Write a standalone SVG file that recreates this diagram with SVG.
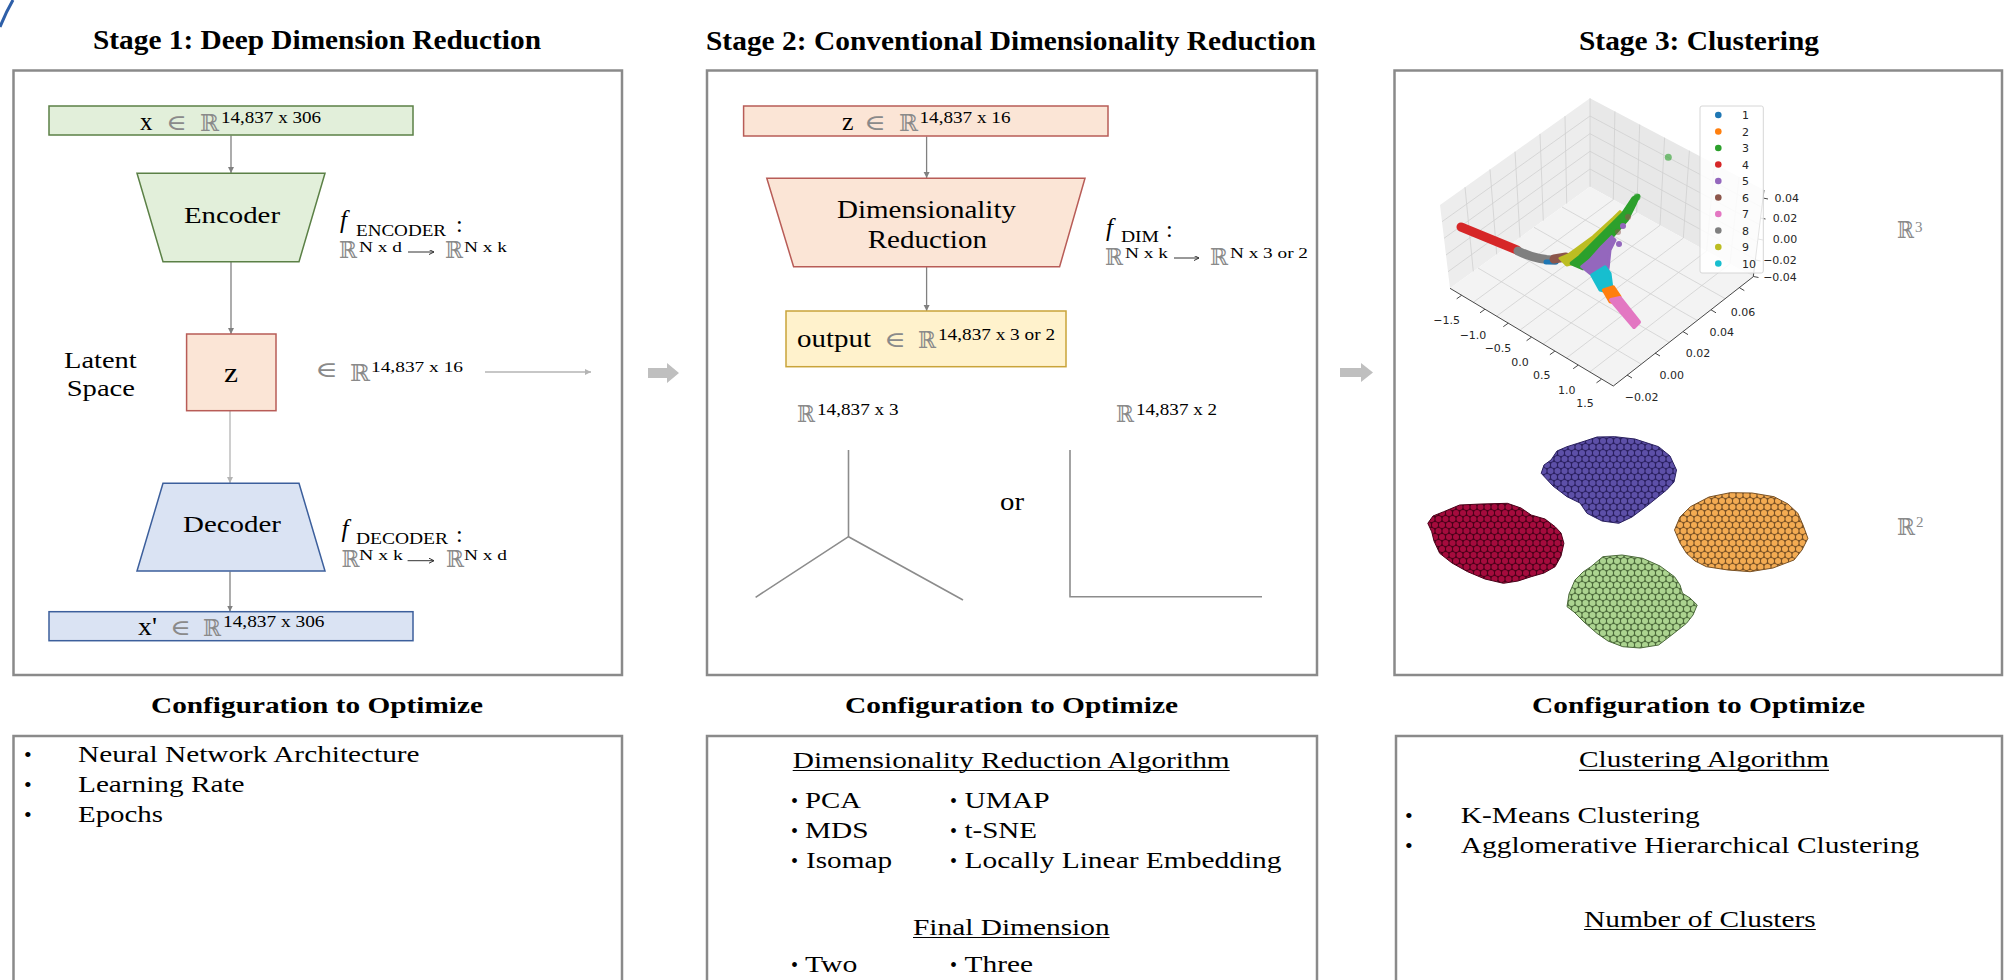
<svg xmlns="http://www.w3.org/2000/svg" width="2004" height="980" viewBox="0 0 2004 980">
<defs>
<style>
.s{font-family:"Liberation Serif","Times New Roman",serif;fill:#000}
.bd{font-weight:bold}
.it{font-style:italic}
.m{font-family:"DejaVu Serif","DejaVu Sans",serif;fill:#8a8a8a}
.pl{font-family:"DejaVu Sans",sans-serif;fill:#262626;font-size:11px}
.frame{fill:none;stroke:#8a8a8a;stroke-width:2.5}
.g{fill:#e2efda;stroke:#5b8046;stroke-width:1.5}
.o{fill:#fbe5d6;stroke:#b85c57;stroke-width:1.5}
.bl{fill:#dae3f3;stroke:#3c5f9c;stroke-width:1.5}
.y{fill:#fff2cc;stroke:#c9a43a;stroke-width:1.5}
.con{fill:none;stroke:#808080;stroke-width:1.3;marker-end:url(#ah)}
.con2{fill:none;stroke:#b4b4b4;stroke-width:1.3;marker-end:url(#ah2)}
.ax{fill:none;stroke:#8c8c8c;stroke-width:1.6}
.grid{stroke:#d0d0d0;stroke-width:0.8;fill:none}
.ul{stroke:#000;stroke-width:1.2}
.map{stroke:#333;stroke-width:1;fill:none;marker-end:url(#mh)}
.blk{fill:#bfbfbf}
.tk{stroke:#333;stroke-width:0.9}
</style>
<marker id="ah" markerUnits="userSpaceOnUse" markerWidth="7" markerHeight="7" refX="6" refY="3" orient="auto"><path d="M0,0 L6,3 L0,6 Z" fill="#808080"/></marker>
<marker id="ah2" markerUnits="userSpaceOnUse" markerWidth="7" markerHeight="7" refX="6" refY="3" orient="auto"><path d="M0,0 L6,3 L0,6 Z" fill="#b4b4b4"/></marker>
<marker id="mh" markerUnits="userSpaceOnUse" markerWidth="6" markerHeight="6" refX="5" refY="2.5" orient="auto"><path d="M0,0 L5,2.5 L0,5" fill="none" stroke="#333" stroke-width="1"/></marker>
<pattern id="pPur" width="7" height="12" patternUnits="userSpaceOnUse"><rect width="7" height="12" fill="#2a2060"/><circle cx="3.5" cy="3" r="3" fill="#5d50a8"/><circle cx="0" cy="9" r="3" fill="#5d50a8"/><circle cx="7" cy="9" r="3" fill="#5d50a8"/></pattern>
<pattern id="pRed" width="7" height="12" patternUnits="userSpaceOnUse"><rect width="7" height="12" fill="#4a0018"/><circle cx="3.5" cy="3" r="3" fill="#a50b3d"/><circle cx="0" cy="9" r="3" fill="#a50b3d"/><circle cx="7" cy="9" r="3" fill="#a50b3d"/></pattern>
<pattern id="pOra" width="7" height="12" patternUnits="userSpaceOnUse"><rect width="7" height="12" fill="#7a5225"/><circle cx="3.5" cy="3" r="3" fill="#f3ab52"/><circle cx="0" cy="9" r="3" fill="#f3ab52"/><circle cx="7" cy="9" r="3" fill="#f3ab52"/></pattern>
<pattern id="pGrn" width="7" height="12" patternUnits="userSpaceOnUse"><rect width="7" height="12" fill="#4d6b3c"/><circle cx="3.5" cy="3" r="3" fill="#acd490"/><circle cx="0" cy="9" r="3" fill="#acd490"/><circle cx="7" cy="9" r="3" fill="#acd490"/></pattern>
</defs>
<rect width="2004" height="980" fill="#fff"/>
<path d="M0,27 Q6,12 13,0" fill="none" stroke="#2e5fa8" stroke-width="3"/>

<g id="titles">
<text class="s bd" x="93" y="49" font-size="26.5" textLength="448" lengthAdjust="spacingAndGlyphs">Stage 1: Deep Dimension Reduction</text>
<text class="s bd" x="706" y="50" font-size="26.5" textLength="610" lengthAdjust="spacingAndGlyphs">Stage 2: Conventional Dimensionality Reduction</text>
<text class="s bd" x="1579" y="50" font-size="26.5" textLength="240" lengthAdjust="spacingAndGlyphs">Stage 3: Clustering</text>
<text class="s bd" x="151" y="713" font-size="23" textLength="332" lengthAdjust="spacingAndGlyphs">Configuration to Optimize</text>
<text class="s bd" x="845" y="713" font-size="23" textLength="333" lengthAdjust="spacingAndGlyphs">Configuration to Optimize</text>
<text class="s bd" x="1532" y="713" font-size="23" textLength="333" lengthAdjust="spacingAndGlyphs">Configuration to Optimize</text>
</g>

<g id="frames">
<rect class="frame" x="13.5" y="70.5" width="608.5" height="604.5"/>
<rect class="frame" x="707" y="70.5" width="610" height="604.5"/>
<rect class="frame" x="1394.5" y="70.5" width="607.5" height="604.5"/>
<rect class="frame" x="13.5" y="736" width="608.5" height="260"/>
<rect class="frame" x="707" y="736" width="610" height="260"/>
<rect class="frame" x="1396" y="736" width="606" height="260"/>
</g>

<g id="connectors">
<line class="con" x1="231" y1="135.5" x2="231" y2="173"/>
<line class="con" x1="231" y1="262" x2="231" y2="334"/>
<line class="con2" x1="230" y1="411" x2="230" y2="483"/>
<line class="con" x1="230" y1="571.5" x2="230" y2="611.5"/>
<line class="con2" x1="485" y1="372" x2="591" y2="372"/>
<line class="con" x1="926.6" y1="136.5" x2="926.6" y2="178"/>
<line class="con" x1="926.6" y1="267" x2="926.6" y2="311"/>
<path class="blk" d="M648,368 H667 V363 L679,373 L667,383 V378 H648 Z"/>
<path class="blk" d="M1340,368 H1361 V363 L1373,372.5 L1361,382 V377 H1340 Z"/>
</g>

<g id="x-input">
<rect class="g" x="49" y="106" width="364" height="29"/>
<text class="s" x="140" y="130" font-size="25">x</text>
<text class="m" x="166" y="130" font-size="22" textLength="21" lengthAdjust="spacingAndGlyphs">∈</text>
<text class="m" x="200" y="131" font-size="23" textLength="19" lengthAdjust="spacingAndGlyphs">ℝ</text>
<text class="s" x="221" y="122.7" font-size="16.5" textLength="100" lengthAdjust="spacingAndGlyphs">14,837 x 306</text>
</g>

<g id="encoder">
<polygon class="g" points="137,173.3 325,173.3 299,261.7 163,261.7"/>
<text class="s" x="232" y="222.7" font-size="24" text-anchor="middle" textLength="96" lengthAdjust="spacingAndGlyphs">Encoder</text>
</g>
<g id="f-encoder">
<text class="s it" x="340" y="228" font-size="25">f</text>
<text class="s" x="356" y="235.7" font-size="16" textLength="90" lengthAdjust="spacingAndGlyphs">ENCODER</text>
<text class="s" x="456" y="231.5" font-size="24">:</text>
<text class="m" x="339" y="258" font-size="23" textLength="18" lengthAdjust="spacingAndGlyphs">ℝ</text>
<text class="s" x="359" y="251.7" font-size="14.5" textLength="43" lengthAdjust="spacingAndGlyphs">N x d</text>
<line class="map" x1="408" y1="252" x2="434" y2="252"/>
<text class="m" x="445" y="258" font-size="23" textLength="18" lengthAdjust="spacingAndGlyphs">ℝ</text>
<text class="s" x="464" y="251.7" font-size="14.5" textLength="43" lengthAdjust="spacingAndGlyphs">N x k</text>
</g>

<g id="latent-label">
<text class="s" x="64" y="368.3" font-size="23" textLength="72.7" lengthAdjust="spacingAndGlyphs">Latent</text>
<text class="s" x="66.7" y="396" font-size="23" textLength="68.3" lengthAdjust="spacingAndGlyphs">Space</text>
</g>

<g id="z-latent">
<rect class="o" x="186.6" y="334" width="89.4" height="76.7"/>
<text class="s" x="231" y="381.7" font-size="28" text-anchor="middle" textLength="14" lengthAdjust="spacingAndGlyphs">z</text>
</g>
<g id="z-dim">
<text class="m" x="315" y="377.3" font-size="22" textLength="23" lengthAdjust="spacingAndGlyphs">∈</text>
<text class="m" x="350" y="380.7" font-size="23" textLength="20" lengthAdjust="spacingAndGlyphs">ℝ</text>
<text class="s" x="371" y="372.3" font-size="15" textLength="92" lengthAdjust="spacingAndGlyphs">14,837 x 16</text>
</g>

<g id="decoder">
<polygon class="bl" points="163,483.3 299,483.3 325,571 137,571"/>
<text class="s" x="232" y="531.7" font-size="24" text-anchor="middle" textLength="98" lengthAdjust="spacingAndGlyphs">Decoder</text>
</g>
<g id="f-decoder">
<text class="s it" x="341.5" y="537" font-size="25">f</text>
<text class="s" x="356" y="544" font-size="16" textLength="92" lengthAdjust="spacingAndGlyphs">DECODER</text>
<text class="s" x="456" y="541.5" font-size="24">:</text>
<text class="m" x="341.5" y="567.3" font-size="23" textLength="18" lengthAdjust="spacingAndGlyphs">ℝ</text>
<text class="s" x="359" y="560" font-size="14.5" textLength="44" lengthAdjust="spacingAndGlyphs">N x k</text>
<line class="map" x1="407.6" y1="560.7" x2="434" y2="560.7"/>
<text class="m" x="446" y="567.3" font-size="23" textLength="18" lengthAdjust="spacingAndGlyphs">ℝ</text>
<text class="s" x="464" y="560" font-size="14.5" textLength="43" lengthAdjust="spacingAndGlyphs">N x d</text>
</g>

<g id="x-output">
<rect class="bl" x="49" y="611.7" width="364" height="29"/>
<text class="s" x="138" y="635" font-size="25" textLength="19" lengthAdjust="spacingAndGlyphs">x'</text>
<text class="m" x="170" y="635" font-size="22" textLength="21" lengthAdjust="spacingAndGlyphs">∈</text>
<text class="m" x="203" y="636" font-size="23" textLength="18" lengthAdjust="spacingAndGlyphs">ℝ</text>
<text class="s" x="223" y="627.3" font-size="16.5" textLength="101.5" lengthAdjust="spacingAndGlyphs">14,837 x 306</text>
</g>

<g id="config-1">
<text class="s" x="24" y="761.7" font-size="22">•</text>
<text class="s" x="78" y="761.7" font-size="22.7" textLength="341.6" lengthAdjust="spacingAndGlyphs">Neural Network Architecture</text>
<text class="s" x="24" y="792.3" font-size="22">•</text>
<text class="s" x="78" y="792.3" font-size="22.7" textLength="166.6" lengthAdjust="spacingAndGlyphs">Learning Rate</text>
<text class="s" x="24" y="821.7" font-size="22">•</text>
<text class="s" x="78" y="821.7" font-size="22.7" textLength="85" lengthAdjust="spacingAndGlyphs">Epochs</text>
</g>

<g id="z-input">
<rect class="o" x="743.6" y="106" width="364.4" height="30"/>
<text class="s" x="842" y="130" font-size="25" textLength="11.5" lengthAdjust="spacingAndGlyphs">z</text>
<text class="m" x="864" y="130" font-size="22" textLength="22" lengthAdjust="spacingAndGlyphs">∈</text>
<text class="m" x="899" y="131" font-size="23" textLength="19" lengthAdjust="spacingAndGlyphs">ℝ</text>
<text class="s" x="919.5" y="122.7" font-size="16.5" textLength="91" lengthAdjust="spacingAndGlyphs">14,837 x 16</text>
</g>

<g id="dim-reduction">
<polygon class="o" points="766.8,178.3 1085,178.3 1059.6,266.7 793.6,266.7"/>
<text class="s" x="926.5" y="218.3" font-size="25" text-anchor="middle" textLength="179" lengthAdjust="spacingAndGlyphs">Dimensionality</text>
<text class="s" x="927.3" y="247.7" font-size="25" text-anchor="middle" textLength="119.3" lengthAdjust="spacingAndGlyphs">Reduction</text>
</g>
<g id="f-dim">
<text class="s it" x="1106" y="236" font-size="25">f</text>
<text class="s" x="1121" y="241.7" font-size="16" textLength="38" lengthAdjust="spacingAndGlyphs">DIM</text>
<text class="s" x="1166" y="237" font-size="24">:</text>
<text class="m" x="1105" y="265" font-size="23" textLength="18" lengthAdjust="spacingAndGlyphs">ℝ</text>
<text class="s" x="1125" y="258" font-size="14.5" textLength="43" lengthAdjust="spacingAndGlyphs">N x k</text>
<line class="map" x1="1174" y1="258" x2="1199" y2="258"/>
<text class="m" x="1210" y="265" font-size="23" textLength="18" lengthAdjust="spacingAndGlyphs">ℝ</text>
<text class="s" x="1230" y="258" font-size="14.5" textLength="78" lengthAdjust="spacingAndGlyphs">N x 3 or 2</text>
</g>

<g id="output">
<rect class="y" x="786" y="311" width="280" height="55.7"/>
<text class="s" x="797" y="346.7" font-size="25" textLength="74" lengthAdjust="spacingAndGlyphs">output</text>
<text class="m" x="884" y="346.7" font-size="22" textLength="22" lengthAdjust="spacingAndGlyphs">∈</text>
<text class="m" x="918" y="347.7" font-size="23" textLength="18" lengthAdjust="spacingAndGlyphs">ℝ</text>
<text class="s" x="938" y="340" font-size="16.5" textLength="117" lengthAdjust="spacingAndGlyphs">14,837 x 3 or 2</text>
</g>

<g id="space-3d">
<text class="m" x="797" y="421.5" font-size="23" textLength="18" lengthAdjust="spacingAndGlyphs">ℝ</text>
<text class="s" x="817" y="415" font-size="16.5" textLength="81.5" lengthAdjust="spacingAndGlyphs">14,837 x 3</text>
<polyline class="ax" points="848.5,450 848.5,536.7"/>
<polyline class="ax" points="755.6,597.3 848.5,536.7 963,600"/>
</g>
<text class="s" x="1000" y="510" font-size="25" textLength="24" lengthAdjust="spacingAndGlyphs">or</text>
<g id="space-2d">
<text class="m" x="1116" y="421.5" font-size="23" textLength="18" lengthAdjust="spacingAndGlyphs">ℝ</text>
<text class="s" x="1136" y="415" font-size="16.5" textLength="81" lengthAdjust="spacingAndGlyphs">14,837 x 2</text>
<polyline class="ax" points="1070,450 1070,596.7 1262,596.7"/>
</g>

<g id="config-2">
<text class="s" x="792.7" y="767.7" font-size="22.5" textLength="437" lengthAdjust="spacingAndGlyphs">Dimensionality Reduction Algorithm</text>
<line class="ul" x1="792.7" y1="770.5" x2="1229.7" y2="770.5"/>
<text class="s" x="791" y="807.7" font-size="20">•</text>
<text class="s" x="805" y="807.7" font-size="22.5" textLength="56" lengthAdjust="spacingAndGlyphs">PCA</text>
<text class="s" x="791" y="837.7" font-size="20">•</text>
<text class="s" x="805" y="837.7" font-size="22.5" textLength="63.6" lengthAdjust="spacingAndGlyphs">MDS</text>
<text class="s" x="791" y="867.7" font-size="20">•</text>
<text class="s" x="806" y="867.7" font-size="22.5" textLength="86" lengthAdjust="spacingAndGlyphs">Isomap</text>
<text class="s" x="950" y="807.7" font-size="20">•</text>
<text class="s" x="964.5" y="807.7" font-size="22.5" textLength="85" lengthAdjust="spacingAndGlyphs">UMAP</text>
<text class="s" x="950" y="837.7" font-size="20">•</text>
<text class="s" x="964.5" y="837.7" font-size="22.5" textLength="72.5" lengthAdjust="spacingAndGlyphs">t-SNE</text>
<text class="s" x="950" y="867.7" font-size="20">•</text>
<text class="s" x="964.5" y="867.7" font-size="22.5" textLength="317" lengthAdjust="spacingAndGlyphs">Locally Linear Embedding</text>
<text class="s" x="913" y="935" font-size="22.5" textLength="196.6" lengthAdjust="spacingAndGlyphs">Final Dimension</text>
<line class="ul" x1="913" y1="937.5" x2="1109.6" y2="937.5"/>
<text class="s" x="791" y="972.3" font-size="20">•</text>
<text class="s" x="805" y="972.3" font-size="22.5" textLength="52.4" lengthAdjust="spacingAndGlyphs">Two</text>
<text class="s" x="950" y="972.3" font-size="20">•</text>
<text class="s" x="964.5" y="972.3" font-size="22.5" textLength="68.5" lengthAdjust="spacingAndGlyphs">Three</text>
</g>

<g id="plot-3d">
<polygon points="1440,205 1590,98.3 1590,186.7 1450,288.3" fill="#ededed"/>
<polygon points="1590,98.3 1764,190 1753.3,276.7 1590,186.7" fill="#e8e8e8"/>
<polygon points="1450,288.3 1590,186.7 1753.3,276.7 1613.3,386" fill="#f3f3f3"/>
<g class="grid">
<line x1="1465" y1="187.2" x2="1473.3" y2="271.4"/><line x1="1490" y1="169.4" x2="1496.7" y2="254.4"/><line x1="1515" y1="151.7" x2="1520" y2="237.5"/><line x1="1540" y1="133.9" x2="1543.3" y2="220.6"/><line x1="1565" y1="116.1" x2="1566.7" y2="203.6"/>
<line x1="1442" y1="221.7" x2="1590" y2="116"/><line x1="1444" y1="238.3" x2="1590" y2="133.6"/><line x1="1446" y1="255" x2="1590" y2="151.3"/><line x1="1448" y1="271.7" x2="1590" y2="169"/>
<line x1="1614.9" y1="111.4" x2="1613.3" y2="199.6"/><line x1="1639.7" y1="124.5" x2="1636.7" y2="212.4"/><line x1="1664.6" y1="137.6" x2="1660" y2="225.3"/><line x1="1689.4" y1="150.7" x2="1683.3" y2="238.1"/><line x1="1714.3" y1="163.8" x2="1706.6" y2="251"/><line x1="1739.1" y1="176.9" x2="1730" y2="263.8"/>
<line x1="1590" y1="116" x2="1761.9" y2="207.3"/><line x1="1590" y1="133.7" x2="1759.7" y2="224.7"/><line x1="1590" y1="151.3" x2="1757.6" y2="242"/><line x1="1590" y1="169" x2="1755.4" y2="259.4"/>
<line x1="1473.3" y1="302.3" x2="1613.3" y2="199.6"/><line x1="1496.6" y1="316.2" x2="1636.7" y2="212.4"/><line x1="1519.9" y1="330.2" x2="1660" y2="225.3"/><line x1="1543.1" y1="344.1" x2="1683.3" y2="238.1"/><line x1="1566.4" y1="358.1" x2="1706.6" y2="251"/><line x1="1589.7" y1="372" x2="1730" y2="263.8"/>
<line x1="1478" y1="268" x2="1641.1" y2="364.1"/><line x1="1506" y1="247.7" x2="1669.1" y2="342.3"/><line x1="1534" y1="227.3" x2="1697.2" y2="320.4"/><line x1="1562" y1="207" x2="1725.2" y2="298.6"/>
<line x1="1590" y1="98.3" x2="1590" y2="186.7"/>
</g>
<polyline points="1450,288.3 1613.3,386 1753.3,276.7" fill="none" stroke="#333" stroke-width="0.9"/>
<line x1="1764" y1="190" x2="1753.3" y2="276.7" stroke="#333" stroke-width="0.9"/>
<g class="tk">
<line x1="1461.6" y1="295.3" x2="1456.7" y2="298.8"/><line x1="1484.9" y1="309.3" x2="1480" y2="312.8"/><line x1="1508.2" y1="323.2" x2="1503.3" y2="326.7"/><line x1="1531.5" y1="337.2" x2="1526.6" y2="340.7"/><line x1="1554.8" y1="351.2" x2="1549.9" y2="354.7"/><line x1="1578.1" y1="365.2" x2="1573.2" y2="368.7"/><line x1="1601.4" y1="379.3" x2="1596.5" y2="382.8"/>
<line x1="1627" y1="375" x2="1632" y2="378"/><line x1="1655" y1="353" x2="1660" y2="356"/><line x1="1683" y1="331.6" x2="1688" y2="334.6"/><line x1="1711" y1="309.8" x2="1716" y2="312.8"/><line x1="1739.3" y1="287.6" x2="1744.3" y2="290.6"/>
<line x1="1763" y1="198" x2="1768" y2="199"/><line x1="1760.5" y1="218" x2="1765.5" y2="219"/><line x1="1758" y1="239" x2="1763" y2="240"/><line x1="1755.5" y1="260" x2="1760.5" y2="261"/><line x1="1753.5" y1="276.5" x2="1758.5" y2="277.5"/>
</g>
<g class="pl" text-anchor="middle">
<text x="1446.7" y="324">−1.5</text><text x="1473" y="339">−1.0</text><text x="1498" y="352">−0.5</text><text x="1520" y="365.7">0.0</text><text x="1541.7" y="379">0.5</text><text x="1566.7" y="394">1.0</text><text x="1585" y="407">1.5</text>
<text x="1641.7" y="400.7">−0.02</text><text x="1671.7" y="379">0.00</text><text x="1698" y="357">0.02</text><text x="1721.7" y="335.7">0.04</text><text x="1743" y="315.7">0.06</text>
<text x="1786.7" y="202.3">0.04</text><text x="1785" y="222">0.02</text><text x="1785" y="243">0.00</text><text x="1780" y="264">−0.02</text><text x="1780" y="280.7">−0.04</text>
</g>
<g stroke-linecap="round" stroke-linejoin="round">
<line x1="1461" y1="227" x2="1517" y2="250" stroke="#d62728" stroke-width="9"/>
<path d="M1518,251 Q1536,260 1555,260" fill="none" stroke="#7f7f7f" stroke-width="9"/>
<line x1="1546" y1="262" x2="1556" y2="262" stroke="#1f77b4" stroke-width="5"/>
<line x1="1554" y1="259" x2="1566" y2="257" stroke="#8c564b" stroke-width="9"/>
<polygon points="1560,258.3 1568.3,255 1593.3,236.7 1613.3,218.3 1620,211.7 1623.3,215 1606.7,236.7 1580,261.7 1566.7,265" fill="#bcbd22" stroke="#bcbd22" stroke-width="3"/>
<polygon points="1571.7,263.3 1580,256.7 1606.7,230 1623.3,213.3 1633.3,198.3 1638.3,196 1635,203.3 1626.7,220 1611.7,236.7 1601.7,246.7 1590,260 1583.3,268.3" fill="#2ca02c" stroke="#2ca02c" stroke-width="4"/>
<polygon points="1581.7,266.7 1590,260 1601.7,246.7 1611.7,236.7 1615,240 1610,250 1608.3,266.7 1606.7,276.7 1596.7,276.7 1590,273.3" fill="#9467bd" stroke="#9467bd" stroke-width="3"/>
<circle cx="1623" cy="226" r="3" fill="#9467bd"/><circle cx="1619" cy="244" r="3" fill="#9467bd"/>
<circle cx="1628" cy="217" r="3" fill="#8c564b" opacity="0.6"/><circle cx="1618" cy="232" r="3" fill="#8c564b" opacity="0.5"/>
<polygon points="1591.7,275 1605,266.7 1610,273.3 1611.7,286.7 1606.7,291.7 1600,290" fill="#17becf" stroke="#17becf" stroke-width="3"/>
<polygon points="1603.3,290 1613.3,286.7 1620,296.7 1616.7,303.3 1610,301.7" fill="#ff7f0e" stroke="#ff7f0e" stroke-width="3"/>
<polygon points="1611,300 1620,298 1639,322 1634,327" fill="#e377c2" stroke="#e377c2" stroke-width="4"/>
<circle cx="1637" cy="197" r="3.5" fill="#2ca02c" opacity="0.7"/>
<circle cx="1668.3" cy="157.3" r="3.5" fill="#2ca02c" opacity="0.6"/>
</g>
<rect x="1700" y="106" width="63.3" height="167" rx="2" fill="#fff" fill-opacity="0.85" stroke="#d6d6d6" stroke-width="1"/>
<g>
<circle cx="1718.3" cy="115" r="3.3" fill="#1f77b4"/><circle cx="1718.3" cy="131.5" r="3.3" fill="#ff7f0e"/><circle cx="1718.3" cy="148" r="3.3" fill="#2ca02c"/><circle cx="1718.3" cy="164.5" r="3.3" fill="#d62728"/><circle cx="1718.3" cy="181" r="3.3" fill="#9467bd"/><circle cx="1718.3" cy="197.5" r="3.3" fill="#8c564b"/><circle cx="1718.3" cy="214" r="3.3" fill="#e377c2"/><circle cx="1718.3" cy="230.5" r="3.3" fill="#7f7f7f"/><circle cx="1718.3" cy="247" r="3.3" fill="#bcbd22"/><circle cx="1718.3" cy="263.5" r="3.3" fill="#17becf"/>
</g>
<g class="pl" font-size="11.5">
<text x="1742" y="119">1</text><text x="1742" y="135.5">2</text><text x="1742" y="152">3</text><text x="1742" y="168.5">4</text><text x="1742" y="185">5</text><text x="1742" y="201.5">6</text><text x="1742" y="218">7</text><text x="1742" y="234.5">8</text><text x="1742" y="251">9</text><text x="1742" y="267.5">10</text>
</g>
</g>

<g id="label-r3">
<text class="m" x="1897" y="238.3" font-size="23" textLength="17" lengthAdjust="spacingAndGlyphs">ℝ</text>
<text class="s" x="1915" y="231.7" font-size="15" fill="#8a8a8a" style="fill:#8a8a8a">3</text>
</g>

<g id="plot-2d" stroke-linejoin="round">
<path d="M1614.8,436.7 L1635,439 L1658.6,446.7 L1670,456 L1676.5,470 L1674,482 L1666.6,490 L1648,505 L1632,517 L1618.8,523.3 L1602,521 L1587,513.3 L1580,503 L1567,496.7 L1553,486 L1541.2,473.3 L1544,465 L1551,460 L1557,451 L1567,446.7 L1585,441 L1597,437 Z" fill="url(#pPur)" stroke="#2a2060" stroke-width="1"/>
<path d="M1459.6,505 L1481,504 L1507.4,503.3 L1521,508 L1531.2,515 L1545,519 L1555.1,526.7 L1561,533 L1563.9,543.3 L1561,556 L1555.1,566.7 L1544,573 L1531.2,576.7 L1518,581 L1503.4,583.3 L1485,579 L1467.6,571.7 L1452,563 L1439.7,553.3 L1434,541 L1431.7,531.7 L1427.8,523.3 L1433,516 L1443.7,511.7 Z" fill="url(#pRed)" stroke="#4a0018" stroke-width="1"/>
<path d="M1730.2,492.7 L1752,493 L1774,496.7 L1788,504 L1797.9,513.3 L1803,525 L1807.9,538.3 L1802,550 L1794,560 L1773,568 L1750.1,571.7 L1728,570 L1706.4,566.7 L1695,561 L1686.5,553.3 L1680,543 L1674.5,530 L1680,517 L1690.4,506.7 L1709,497 Z" fill="url(#pOra)" stroke="#7a5225" stroke-width="1"/>
<path d="M1602.9,556.7 L1622,555 L1642.7,558.3 L1660,566 L1674.5,576.7 L1680,585 L1682.5,593.3 L1690,598 L1697.2,605 L1693,615 L1686.5,623.3 L1673,634 L1658.6,645 L1640,648 L1622.8,646.7 L1608,641 L1596.9,633.3 L1584,622 L1574,612 L1567,606.7 L1569,594 L1575,580 L1583,572 L1590.9,566.7 Z" fill="url(#pGrn)" stroke="#4d6b3c" stroke-width="1"/>
</g>

<g id="label-r2">
<text class="m" x="1897" y="535" font-size="23" textLength="18" lengthAdjust="spacingAndGlyphs">ℝ</text>
<text class="s" x="1916" y="526.7" font-size="15" style="fill:#8a8a8a">2</text>
</g>

<g id="config-3">
<text class="s" x="1579" y="767.3" font-size="23.5" textLength="250" lengthAdjust="spacingAndGlyphs">Clustering Algorithm</text>
<line class="ul" x1="1579" y1="770.3" x2="1829" y2="770.3"/>
<text class="s" x="1405" y="823.3" font-size="22">•</text>
<text class="s" x="1460.8" y="823.3" font-size="23.5" textLength="239" lengthAdjust="spacingAndGlyphs">K-Means Clustering</text>
<text class="s" x="1405" y="852.7" font-size="22">•</text>
<text class="s" x="1460.8" y="852.7" font-size="23.5" textLength="458.5" lengthAdjust="spacingAndGlyphs">Agglomerative Hierarchical Clustering</text>
<text class="s" x="1584" y="926.7" font-size="23.5" textLength="231.8" lengthAdjust="spacingAndGlyphs">Number of Clusters</text>
<line class="ul" x1="1584" y1="929.5" x2="1815.8" y2="929.5"/>
</g>
</svg>
